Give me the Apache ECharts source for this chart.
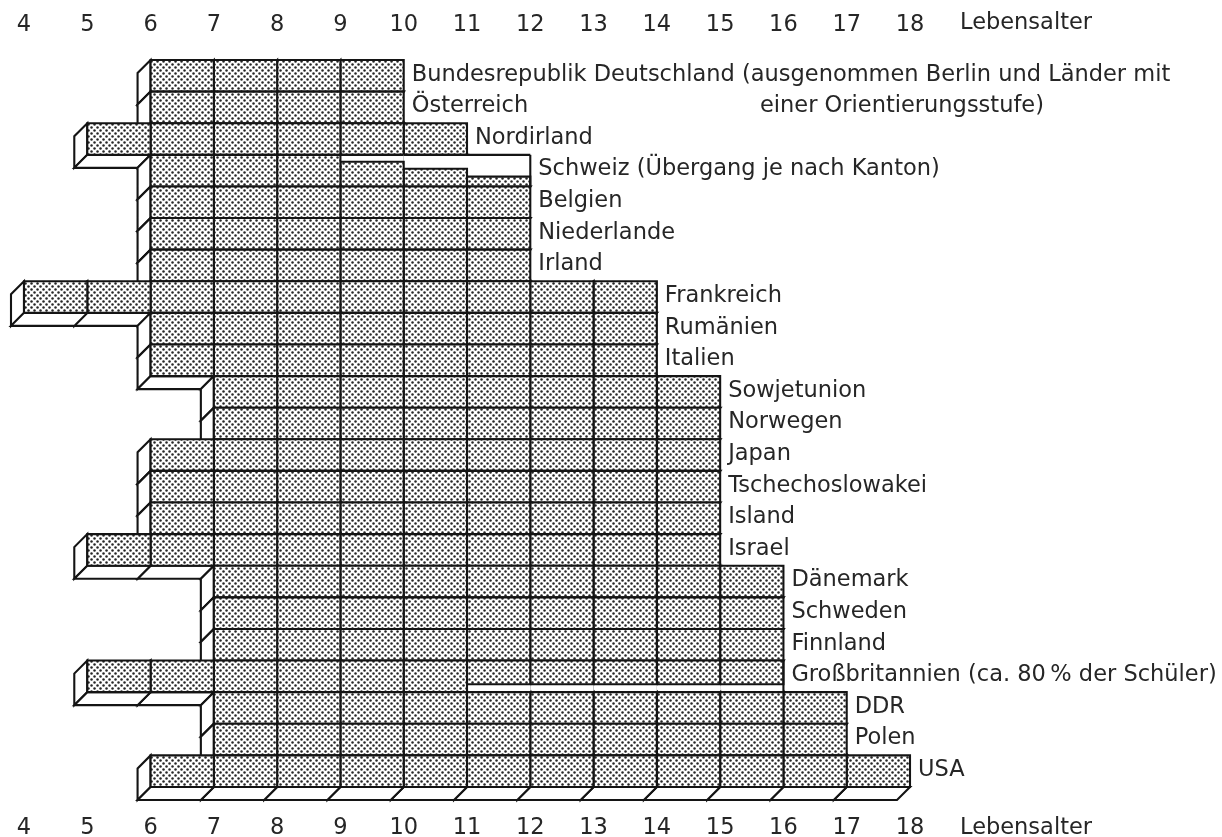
<!DOCTYPE html>
<html>
<head>
<meta charset="utf-8">
<script src="https://cdn.jsdelivr.net/npm/echarts/dist/echarts.min.js"></script>
<style>
html,body{margin:0;padding:0;background:#fff;}
#chart{width:1222px;height:837px;}
</style>
</head>
<body>
<div id="chart"></div>
<script>
// ---------------- data ----------------
const countries = [
  'Bundesrepublik Deutschland (ausgenommen Berlin und Länder mit',
  'Österreich',
  'Nordirland',
  'Schweiz (Übergang je nach Kanton)',
  'Belgien',
  'Niederlande',
  'Irland',
  'Frankreich',
  'Rumänien',
  'Italien',
  'Sowjetunion',
  'Norwegen',
  'Japan',
  'Tschechoslowakei',
  'Island',
  'Israel',
  'Dänemark',
  'Schweden',
  'Finnland',
  'Großbritannien (ca. 80\u2009% der Schüler)',
  'DDR',
  'Polen',
  'USA'
];
const germanyNoteLine2 = 'einer Orientierungsstufe)';
const startAge = [6, 6, 5, 6, 6, 6, 6, 4, 6, 6, 7, 7, 6, 6, 6, 5, 7, 7, 7, 5, 7, 7, 6];
const endAge   = [10, 10, 11, 12, 12, 12, 12, 14, 14, 14, 15, 15, 15, 15, 15, 15, 16, 16, 16, 16, 17, 17, 18];
const ageTicks = [4, 5, 6, 7, 8, 9, 10, 11, 12, 13, 14, 15, 16, 17, 18];
const axisTitle = 'Lebensalter';
// Schweiz: transition depends on canton (share of the year band shaded, from below)
const schweizRow = 3;
const schweizAges = [9, 10, 11];
const schweizShare = [0.78, 0.56, 0.31];
// Großbritannien: ca. 80 % of pupils (share shaded, from above)
const gbRow = 19;
const gbAges = [11, 12, 13, 14, 15];
const gbShare = [0.75, 0.75, 0.75, 0.75, 0.75];

// ---------------- styling ----------------
const FONT = '"DejaVu Sans", "Liberation Sans", sans-serif';
const FS = 22.5;
const INK = '#141414';
const TXT = '#262626';
const DEPTH = 13;

function makeDotPattern() {
  const c = document.createElement('canvas');
  c.width = 6; c.height = 6;
  const g = c.getContext('2d');
  g.fillStyle = '#ffffff';
  g.fillRect(0, 0, 6, 6);
  g.fillStyle = '#262626';
  g.beginPath(); g.arc(1.5, 1.5, 1.25, 0, Math.PI * 2); g.fill();
  g.beginPath(); g.arc(4.5, 4.5, 1.25, 0, Math.PI * 2); g.fill();
  return c;
}
const dotFill = { image: makeDotPattern(), repeat: 'repeat' };

// build cells: [age, row, share, mode]  mode 0 full, 1 from bottom, 2 from top
const cells = [];
countries.forEach(function (name, r) {
  for (let a = startAge[r]; a < endAge[r]; a++) {
    let share = 1, mode = 0;
    if (r === schweizRow && schweizAges.indexOf(a) >= 0) {
      share = schweizShare[schweizAges.indexOf(a)]; mode = 1;
    }
    if (r === gbRow && gbAges.indexOf(a) >= 0) {
      share = gbShare[gbAges.indexOf(a)]; mode = 2;
    }
    cells.push([a, r, share, mode]);
  }
});

function renderItem(params, api) {
  const a = api.value(0), r = api.value(1), share = api.value(2), mode = api.value(3);
  const p0 = api.coord([a, r]);
  const p1 = api.coord([a + 1, r]);
  const h = api.size([0, 1])[1];
  const x0 = p0[0], x1 = p1[0], top = p0[1] - h / 2, bot = p0[1] + h / 2;
  const w = x1 - x0;
  const d = DEPTH;
  const base = r * 1000 + (30 - a) * 10;
  const line = { stroke: INK, lineWidth: 2.1 };
  const children = [];
  // left side face
  children.push({
    type: 'polygon', z2: base + 1,
    shape: { points: [[x0, top], [x0, bot], [x0 - d, bot + d], [x0 - d, top + d]] },
    style: Object.assign({ fill: '#fff' }, line)
  });
  // bottom side face
  children.push({
    type: 'polygon', z2: base + 2,
    shape: { points: [[x0, bot], [x1, bot], [x1 - d, bot + d], [x0 - d, bot + d]] },
    style: Object.assign({ fill: '#fff' }, line)
  });
  // front face (white base)
  children.push({
    type: 'rect', z2: base + 3,
    shape: { x: x0, y: top, width: w, height: h },
    style: { fill: '#fff' }
  });
  let fy = top, fh = h;
  if (mode === 1) { fh = h * share; fy = bot - fh; }
  if (mode === 2) { fh = h * share; fy = top; }
  children.push({
    type: 'rect', z2: base + 4,
    shape: { x: x0, y: fy, width: w, height: fh },
    style: Object.assign({ fill: dotFill }, line)
  });
  const isLast = (a === endAge[r] - 1);
  if (mode !== 0) {
    const edgeY = mode === 1 ? top : bot;
    children.push({
      type: 'line', z2: base + 5,
      shape: { x1: x0, y1: edgeY, x2: x1, y2: edgeY },
      style: line
    });
    if (isLast) {
      children.push({
        type: 'line', z2: base + 5,
        shape: { x1: x1, y1: top, x2: x1, y2: bot },
        style: line
      });
    }
  }
  if (isLast) {
    children.push({
      type: 'text', z2: 900000,
      x: x1 + 8, y: p0[1] - 1,
      style: {
        text: countries[r], fill: TXT, fontSize: FS, fontFamily: FONT,
        align: 'left', verticalAlign: 'middle'
      }
    });
  }
  return { type: 'group', children: children };
}

const axisCommon = {
  type: 'value', min: ageTicks[0], max: ageTicks[ageTicks.length - 1], interval: 1,
  axisLine: { show: false }, axisTick: { show: false }, splitLine: { show: false }
};

const chart = echarts.init(document.getElementById('chart'), null, { renderer: 'canvas' });
chart.setOption({
  backgroundColor: '#ffffff',
  animation: false,
  grid: { left: 24, right: 312, top: 60, bottom: 50, containLabel: false, outerBoundsMode: 'none' },
  xAxis: [
    Object.assign({}, axisCommon, {
      position: 'bottom',
      axisLabel: { margin: 30, fontSize: FS, fontFamily: FONT, color: TXT }
    }),
    Object.assign({}, axisCommon, {
      position: 'top',
      axisLabel: { margin: 23, fontSize: FS, fontFamily: FONT, color: TXT }
    })
  ],
  yAxis: { type: 'category', data: countries, inverse: true, show: false },
  graphic: [
    { type: 'text', x: 960, y: 23, style: { text: axisTitle, fill: TXT, fontSize: FS, fontFamily: FONT, verticalAlign: 'middle' } },
    { type: 'text', x: 960, y: 828, style: { text: axisTitle, fill: TXT, fontSize: FS, fontFamily: FONT, verticalAlign: 'middle' } },
    { type: 'text', x: 760, y: 106, style: { text: germanyNoteLine2, fill: TXT, fontSize: FS, fontFamily: FONT, verticalAlign: 'middle' } }
  ],
  series: [{
    type: 'custom',
    coordinateSystem: 'cartesian2d',
    xAxisIndex: 0, yAxisIndex: 0,
    clip: false,
    encode: { x: 0, y: 1 },
    data: cells,
    renderItem: renderItem
  }]
});
</script>
</body>
</html>
